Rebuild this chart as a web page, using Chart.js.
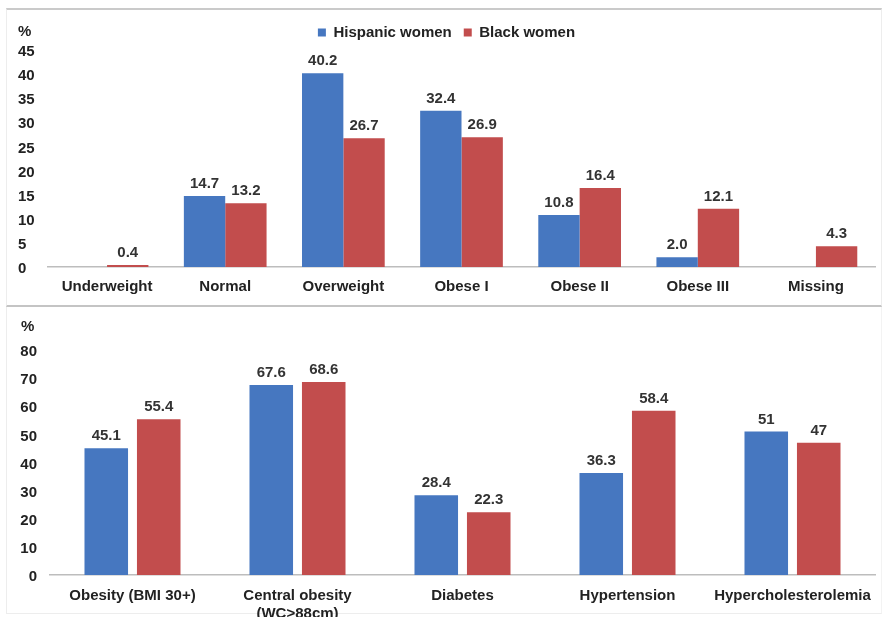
<!DOCTYPE html>
<html>
<head>
<meta charset="utf-8">
<script src="https://cdn.jsdelivr.net/npm/chart.js@4.4.1/dist/chart.umd.min.js"></script>
<style>
  html, body { margin: 0; padding: 0; background: #fff; }
  #page { position: relative; width: 884px; height: 617px; overflow: hidden; background: #fff; }
  .frame { position: absolute; box-sizing: border-box; }
  #frameTop { left: 6px; top: 8px; width: 876px; height: 299px;
    border-top: 2px solid #cacaca; border-bottom: 2px solid #c4c4c4;
    border-left: 1px solid #ededed; border-right: 1px solid #ededed; }
  #frameBottom { left: 6px; top: 307px; width: 876px; height: 307px;
    border-left: 1px solid #ededed; border-bottom: 1px solid #ededed; border-right: 1px solid #f3f3f3; }
  .wrap { position: absolute; left: 0; width: 884px; }
  #wrapTop { top: 10px; height: 294px; }
  #wrapBottom { top: 306px; height: 311px; }
  canvas { display: block; }
</style>
</head>
<body>
<div id="page">
  <div class="frame" id="frameTop"></div>
  <div class="frame" id="frameBottom"></div>
  <div class="wrap" id="wrapTop"><canvas id="bmiChart" width="884" height="294"></canvas></div>
  <div class="wrap" id="wrapBottom"><canvas id="riskChart" width="884" height="311"></canvas></div>
</div>
<script>
// BMI distribution (%)
const bmiCategories = ['Underweight', 'Normal', 'Overweight', 'Obese I', 'Obese II', 'Obese III', 'Missing'];
const bmiHispanic   = [null, 14.7, 40.2, 32.4, 10.8, 2.0, null];
const bmiBlack      = [0.4, 13.2, 26.7, 26.9, 16.4, 12.1, 4.3];
const bmiAxis       = [0, 45, 5];   // min, max, step

// Cardiometabolic risk factors (%)
const riskCategories = ['Obesity (BMI 30+)', ['Central obesity', '(WC>88cm)'], 'Diabetes', 'Hypertension', 'Hypercholesterolemia'];
const riskHispanic   = [45.1, 67.6, 28.4, 36.3, 51];
const riskBlack      = [55.4, 68.6, 22.3, 58.4, 47];
const riskAxis       = [0, 80, 10]; // min, max, step

const seriesNames = ['Hispanic women', 'Black women'];

const BLUE = '#4677c0';
const RED = '#c24d4d';
const TEXT = '#222222';
const FAMILY = '"Liberation Sans", Arial, Helvetica, sans-serif';

Chart.defaults.font.family = FAMILY;
Chart.defaults.color = TEXT;

// Writes each bar's value above it and the "%" unit over the value axis
const valueLabels = {
  id: 'valueLabels',
  afterDatasetsDraw(chart, args, opts) {
    const ctx = chart.ctx;
    ctx.save();
    ctx.font = 'bold 15px ' + FAMILY;
    ctx.fillStyle = '#333333';
    ctx.textAlign = 'center';
    ctx.textBaseline = 'alphabetic';
    chart.data.datasets.forEach((ds, i) => {
      const meta = chart.getDatasetMeta(i);
      meta.data.forEach((bar, j) => {
        const v = ds.data[j];
        if (v === null || v === undefined) return;
        const txt = opts.decimals >= 0 ? v.toFixed(opts.decimals) : String(v);
        ctx.fillText(txt, bar.x, bar.y - 8);
      });
    });
    ctx.font = 'bold 15px ' + FAMILY;
    ctx.fillStyle = TEXT;
    ctx.textAlign = 'left';
    ctx.textBaseline = 'middle';
    ctx.fillText(opts.unit, opts.unitX, chart.chartArea.top - opts.unitGap);
    ctx.restore();
  }
};

const boldFont = { family: FAMILY, size: 15, weight: 'bold' };

function datasets(a, b, catPct, barPct) {
  return [
    { label: seriesNames[0], data: a, backgroundColor: BLUE, borderWidth: 0,
      categoryPercentage: catPct, barPercentage: barPct },
    { label: seriesNames[1], data: b, backgroundColor: RED, borderWidth: 0,
      categoryPercentage: catPct, barPercentage: barPct }
  ];
}

new Chart(document.getElementById('bmiChart'), {
  type: 'bar',
  data: { labels: bmiCategories, datasets: datasets(bmiHispanic, bmiBlack, 0.70, 1.0) },
  plugins: [valueLabels],
  options: {
    responsive: false,
    animation: false,
    devicePixelRatio: 1,
    layout: { padding: { left: 18, right: 9, top: 3, bottom: 0 } },
    plugins: {
      legend: {
        display: true,
        position: 'top',
        labels: { boxWidth: 8, boxHeight: 8, padding: 12, color: TEXT, font: boldFont }
      },
      tooltip: { enabled: false },
      valueLabels: { decimals: 1, unit: '%', unitX: 18, unitGap: 18 }
    },
    scales: {
      x: {
        grid: { display: false, drawTicks: false },
        border: { display: true, color: '#bdbdbd', width: 1.5 },
        ticks: { padding: 11, color: TEXT, font: boldFont, maxRotation: 0 },
        afterFit(s) { s.height = 37; }
      },
      y: {
        min: bmiAxis[0], max: bmiAxis[1],
        ticks: { stepSize: bmiAxis[2], crossAlign: 'far', padding: 0, labelOffset: 2, color: TEXT, font: boldFont },
        grid: { display: false, drawTicks: false },
        border: { display: false },
        afterFit(s) { s.width = 30; }
      }
    }
  }
});

new Chart(document.getElementById('riskChart'), {
  type: 'bar',
  data: { labels: riskCategories, datasets: datasets(riskHispanic, riskBlack, 0.636, 0.83) },
  plugins: [valueLabels],
  options: {
    responsive: false,
    animation: false,
    devicePixelRatio: 1,
    layout: { padding: { left: 0, right: 9, top: 44, bottom: 0 } },
    plugins: {
      legend: { display: false },
      tooltip: { enabled: false },
      valueLabels: { decimals: -1, unit: '%', unitX: 21, unitGap: 23 }
    },
    scales: {
      x: {
        grid: { display: false, drawTicks: false },
        border: { display: true, color: '#bdbdbd', width: 1.5 },
        ticks: { padding: 12, color: TEXT, font: boldFont, maxRotation: 0 },
        afterFit(s) { s.height = 42; }
      },
      y: {
        min: riskAxis[0], max: riskAxis[1],
        ticks: { stepSize: riskAxis[2], padding: 13, labelOffset: 2, color: TEXT, font: boldFont },
        grid: { display: false, drawTicks: false },
        border: { display: false },
        afterFit(s) { s.width = 50; }
      }
    }
  }
});
</script>
</body>
</html>
